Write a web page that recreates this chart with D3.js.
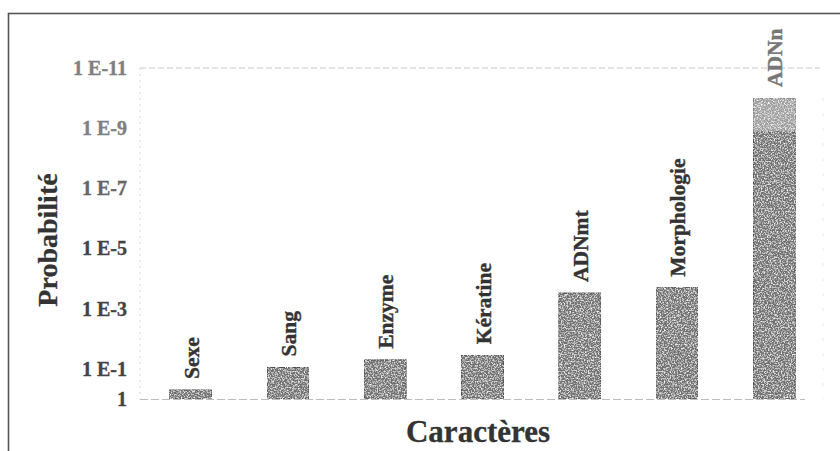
<!DOCTYPE html>
<html>
<head>
<meta charset="utf-8">
<script src="https://cdn.jsdelivr.net/npm/d3@7"></script>
<style>
  html, body { margin: 0; padding: 0; background: #fff; }
  svg { display: block; }
  text { font-family: "Liberation Serif", "Times New Roman", serif; font-weight: bold; }
</style>
</head>
<body>
<svg id="chart" width="840" height="451"></svg>
<script>
// Probabilité par caractère (échelle logarithmique inversée)
const categories = ["Sexe", "Sang", "Enzyme", "Kératine", "ADNmt", "Morphologie", "ADNn"];
const probabilities = [0.5, 0.09, 0.05, 0.035, 3e-4, 2e-4, 1.3e-9];
// borne supérieure de l'intervalle (seul ADNn en a une)
const upperBounds = [null, null, null, null, null, null, 1e-10];
const tickValues = [1, 1e-1, 1e-3, 1e-5, 1e-7, 1e-9, 1e-11];
const tickLabels = ["1", "1 E-1", "1 E-3", "1 E-5", "1 E-7", "1 E-9", "1 E-11"];

const svg = d3.select("#chart");

// grain des barres
const defs = svg.append("defs");
const grain = defs.append("filter").attr("id", "grain")
  .attr("x", 0).attr("y", 0).attr("width", 1).attr("height", 1);
grain.append("feTurbulence").attr("type", "fractalNoise")
  .attr("baseFrequency", 0.7).attr("numOctaves", 2).attr("seed", 7).attr("result", "n");
grain.append("feColorMatrix").attr("in", "n").attr("type", "matrix")
  .attr("values", "0 0 0 0 1  0 0 0 0 1  0 0 0 0 1  2.6 0 0 0 -1.15").attr("result", "speck");
grain.append("feComposite").attr("in", "speck").attr("in2", "SourceGraphic")
  .attr("operator", "in").attr("result", "s2");
const merge = grain.append("feMerge");
merge.append("feMergeNode").attr("in", "SourceGraphic");
merge.append("feMergeNode").attr("in", "s2");

// cadre
svg.append("rect")
  .attr("x", 8.5).attr("y", 13.5).attr("width", 840).attr("height", 450)
  .attr("fill", "none").attr("stroke", "#555").attr("stroke-width", 1.6);

const x = d3.scaleBand().domain(categories).range([142, 823]).paddingInner(0.57).paddingOuter(0.285);
const y = d3.scaleLog().domain([1, 1e-11]).range([399, 68]);

const plotLeft = 140, plotRight = 820;

// lignes du cadre de tracé
svg.append("line")
  .attr("x1", plotLeft).attr("x2", plotRight).attr("y1", y(1e-11)).attr("y2", y(1e-11))
  .attr("stroke", "#c8c8c8").attr("stroke-width", 1).attr("stroke-dasharray", "6,3");
svg.append("line")
  .attr("x1", plotLeft).attr("x2", plotLeft).attr("y1", y(1e-11)).attr("y2", y(1))
  .attr("stroke", "#d8d8d8").attr("stroke-width", 1).attr("stroke-dasharray", "2,4");
svg.append("line")
  .attr("x1", plotRight + 3).attr("x2", plotRight + 3).attr("y1", y(1e-10)).attr("y2", y(1))
  .attr("stroke", "#e8e8e8").attr("stroke-width", 1).attr("stroke-dasharray", "3,12");

// axe des ordonnées
const yAxis = d3.axisLeft(y)
  .tickValues(tickValues)
  .tickFormat((d, i) => tickLabels[i])
  .tickSize(0)
  .tickPadding(13);
const gy = svg.append("g").attr("transform", `translate(${plotLeft},0)`).call(yAxis);
gy.select(".domain").remove();
gy.selectAll("text")
  .attr("font-family", "'Liberation Serif', 'Times New Roman', serif")
  .attr("font-weight", "bold")
  .attr("font-size", 20)
  .attr("fill", (d, i) => i >= 5 ? "#808080" : (i === 4 ? "#666" : "#444"))
  .attr("stroke", (d, i) => i >= 5 ? "#808080" : (i === 4 ? "#666" : "#444"))
  .attr("stroke-width", 0.35);

// barres
const bars = svg.append("g");
bars.selectAll("rect.main")
  .data(categories)
  .join("rect")
  .attr("class", "main")
  .attr("x", d => x(d))
  .attr("width", x.bandwidth())
  .attr("y", (d, i) => y(probabilities[i]))
  .attr("height", (d, i) => y(1) - y(probabilities[i]))
  .attr("fill", "#707070")
  .attr("stroke", "#4a4a4a")
  .attr("stroke-width", 1)
  .attr("filter", "url(#grain)");

bars.selectAll("rect.upper")
  .data(categories.filter((d, i) => upperBounds[i] !== null))
  .join("rect")
  .attr("class", "upper")
  .attr("x", d => x(d))
  .attr("width", x.bandwidth())
  .attr("y", d => y(upperBounds[categories.indexOf(d)]))
  .attr("height", d => {
    const i = categories.indexOf(d);
    return y(probabilities[i]) - y(upperBounds[i]);
  })
  .attr("fill", "#9e9e9e")
  .attr("stroke", "#7a7a7a")
  .attr("stroke-width", 1)
  .attr("filter", "url(#grain)");

// étiquettes verticales au-dessus des barres
svg.append("g").selectAll("text")
  .data(categories)
  .join("text")
  .attr("transform", (d, i) => {
    const top = upperBounds[i] !== null ? upperBounds[i] : probabilities[i];
    const cx = x(d) + x.bandwidth() / 2 + 1;
    return `translate(${cx},${y(top) - 11}) rotate(-90)`;
  })
  .attr("text-anchor", "start")
  .attr("dominant-baseline", "central")
  .attr("font-size", 21.5)
  .attr("fill", (d, i) => i === 6 ? "#777" : "#333")
  .attr("stroke", (d, i) => i === 6 ? "#777" : "#333")
  .attr("stroke-width", 0.4)
  .text(d => d);

// ligne de base
svg.append("line")
  .attr("x1", plotLeft).attr("x2", 805).attr("y1", y(1) + 0.5).attr("y2", y(1) + 0.5)
  .attr("stroke", "#bdbdbd").attr("stroke-width", 1).attr("stroke-dasharray", "8,3");

// titres des axes
svg.append("text")
  .attr("transform", "translate(47,240) rotate(-90)")
  .attr("text-anchor", "middle")
  .attr("dominant-baseline", "central")
  .attr("font-size", 28)
  .attr("fill", "#333")
  .attr("stroke", "#333")
  .attr("stroke-width", 0.3)
  .text("Probabilité");

svg.append("text")
  .attr("x", 478).attr("y", 442)
  .attr("text-anchor", "middle")
  .attr("font-size", 31)
  .attr("fill", "#333")
  .attr("stroke", "#333")
  .attr("stroke-width", 0.3)
  .text("Caractères");
</script>
</body>
</html>
